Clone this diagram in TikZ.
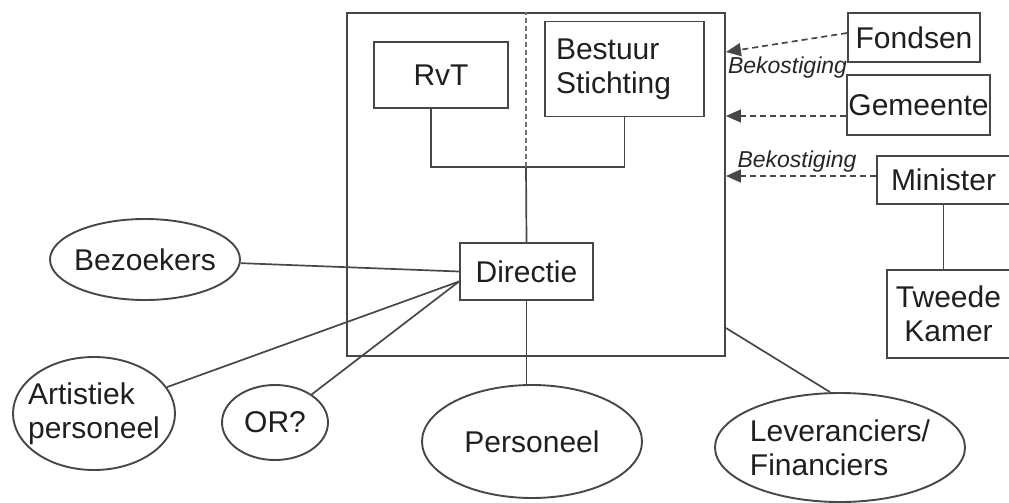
\documentclass[tikz,border=0pt]{standalone}
\usepackage{fontspec}
\setmainfont{Liberation Sans}
\usetikzlibrary{arrows.meta,shapes.geometric}

\begin{document}
\begin{tikzpicture}[x=1pt,y=-1pt,
 wire/.style={draw=black!72,line width=1.9pt},
 box/.style={wire,rectangle,inner sep=0pt,font=\fontsize{30}{34}\selectfont,text=black!88,align=center},
 party/.style={wire,ellipse,inner xsep=-15pt,inner ysep=0pt,font=\fontsize{30}{34}\selectfont,text=black!88,align=left},
 link/.style={wire,line width=1.7pt},
 fund/.style={link,dash pattern=on 6pt off 4pt,-{Triangle[length=15pt,width=13pt]}},
 note/.style={font=\itshape\fontsize{23}{26}\selectfont,text=black!85,inner sep=0pt}]
\useasboundingbox (0,0) rectangle (1009,503);
% organisation
\node[box,minimum width=378,minimum height=343] (org) at (536,184.5) {};
\node[box,minimum width=134,minimum height=66] (rvt) at (441,75) {RvT};
\node[box,minimum width=159,minimum height=95,text width=137pt,align=left] (bestuur) at (624.5,69) {Bestuur\\Stichting};
\node[box,minimum width=133,minimum height=57] (directie) at (526.5,271.5) {Directie};
% financing side
\node[box,minimum width=132,minimum height=49] (fondsen) at (914,37.5) {Fondsen};
\node[box,minimum width=143,minimum height=60] (gemeente) at (918.5,105) {Gemeente};
\node[box,minimum width=133,minimum height=48] (minister) at (943.5,180) {Minister};
\node[box,minimum width=123,minimum height=88] (tweede) at (948.5,314) {Tweede\\Kamer};
\node[note] (bek1) at (787.5,68) {Bekostiging};
\node[note] (bek2) at (797,162) {Bekostiging};
% stakeholders
\node[party,minimum width=190,minimum height=81] (bezoekers) at (145,259.5) {Bezoekers};
\node[party,minimum width=162,minimum height=113] (artistiek) at (94,413.5) {Artistiek\\personeel};
\node[party,minimum width=106,minimum height=75] (orq) at (275,422.5) {OR?};
\node[party,minimum width=220,minimum height=113] (personeel) at (532,441.5) {Personeel};
\node[party,minimum width=250,minimum height=109] (leveranciers) at (840,447.5) {Leveranciers/\\Financiers};

\coordinate (split) at (526,167);
\draw[link] ([xshift=-10pt]rvt.south) |- (split) -| (bestuur.south);
\draw[link,draw=black!55,dash pattern=on 5pt off 3pt] (split) -- (split |- org.north);
\draw[link] (split) -- (directie.north);
\draw[link] (directie.south) -- (directie.south |- personeel.north);
\draw[link] (bezoekers) -- (directie.west);
\draw[link] (artistiek) -- ([yshift=-10pt]directie.west);
\draw[link] (orq) -- ([yshift=-10pt]directie.west);
\draw[link] ([yshift=-143.5pt]org.east) -- ([xshift=-10pt]leveranciers.north);
\draw[link] (minister.south) -- (minister.south |- tweede.north);
\draw[fund] ([yshift=4.5pt]fondsen.west) -- ([yshift=132.5pt]org.east);
\draw[fund] ([yshift=-11pt]gemeente.west) -- ([yshift=68.5pt]org.east);
\draw[fund] ([yshift=4pt]minister.west) -- ([yshift=8.5pt]org.east);
\end{tikzpicture}
\end{document}
